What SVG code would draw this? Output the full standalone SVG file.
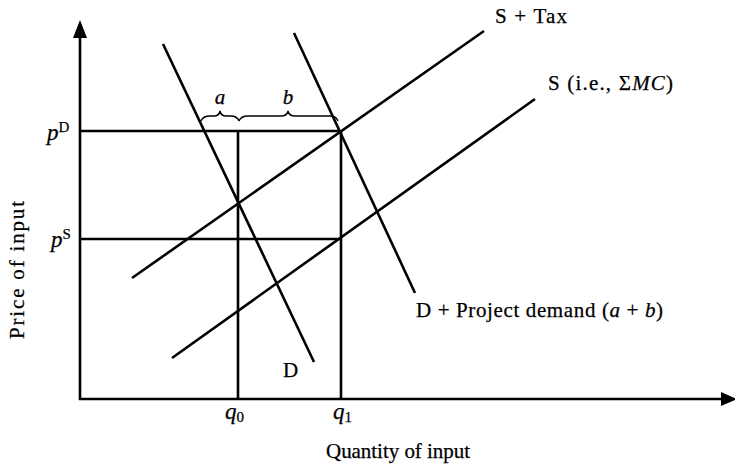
<svg xmlns="http://www.w3.org/2000/svg" width="735" height="468" viewBox="0 0 735 468">
<style>
.ln{stroke:#000;stroke-width:2.6;fill:none;stroke-linecap:butt}
.br{stroke:#000;stroke-width:1.4;fill:none}
.t{font-family:"Liberation Serif","Times New Roman",serif;font-size:21px;fill:#000;stroke:#000;stroke-width:0.25}
.i{font-style:italic}
.sup{font-size:15px}
.pq{font-size:23px}
</style>
<rect width="735" height="468" fill="#fff"/>
<g id="axes">
<line class="ln" x1="80" y1="400" x2="80" y2="36"/>
<polygon points="80,20 73,38 87,38" fill="#000"/>
<line class="ln" x1="79" y1="399" x2="724" y2="399"/>
<polygon points="737,399 721,392 721,406" fill="#000"/>
</g>
<g id="connectors">
<line class="ln" x1="80" y1="131" x2="340" y2="131"/>
<line class="ln" x1="80" y1="239" x2="340" y2="239"/>
<line class="ln" x1="238" y1="131" x2="238" y2="399"/>
<line class="ln" x1="341" y1="131" x2="341" y2="399"/>
</g>
<g id="S-tax">
<line class="ln" x1="132" y1="278" x2="484" y2="31"/>
<text class="t" x="495" y="23" textLength="72" lengthAdjust="spacing">S + Tax</text>
</g>
<g id="S">
<line class="ln" x1="172" y1="358" x2="535" y2="99"/>
<text class="t" x="548" y="90" textLength="125" lengthAdjust="spacing">S (i.e., Σ<tspan class="i">MC</tspan>)</text>
</g>
<g id="D">
<line class="ln" x1="163" y1="44" x2="314" y2="362"/>
<text class="t" x="283" y="377">D</text>
</g>
<g id="D-project">
<line class="ln" x1="294" y1="33" x2="415" y2="293"/>
<text class="t" x="416" y="317" textLength="247" lengthAdjust="spacing">D + Project demand (<tspan class="i">a</tspan> + <tspan class="i">b</tspan>)</text>
</g>
<g id="braces">
<path class="br" d="M201,121 Q203,116 210,116 L214,116 Q219,116 220,111 Q221,116 226,116 L231,116 Q237,116 239,121"/>
<path class="br" d="M239,121 Q241,116 248,116 L281,116 Q287,116 288,111 Q289,116 295,116 L330,116 Q336,116 338,121"/>
<text class="t i" x="220" y="104" text-anchor="middle">a</text>
<text class="t i" x="288" y="104" text-anchor="middle">b</text>
</g>
<g id="labels">
<text class="t i pq" x="47" y="140">p<tspan class="sup" font-style="normal" dy="-8">D</tspan></text>
<text class="t i pq" x="51" y="247">p<tspan class="sup" font-style="normal" dy="-8">S</tspan></text>
<text class="t i pq" x="225" y="419">q<tspan class="sup" font-style="normal" dy="3">0</tspan></text>
<text class="t i pq" x="333" y="419">q<tspan class="sup" font-style="normal" dy="3">1</tspan></text>
<text class="t" x="326" y="458" textLength="144" lengthAdjust="spacing">Quantity of input</text>
<text class="t" x="24" y="270" text-anchor="middle" transform="rotate(-90 24 270)" textLength="138" lengthAdjust="spacing">Price of input</text>
</g>
</svg>
